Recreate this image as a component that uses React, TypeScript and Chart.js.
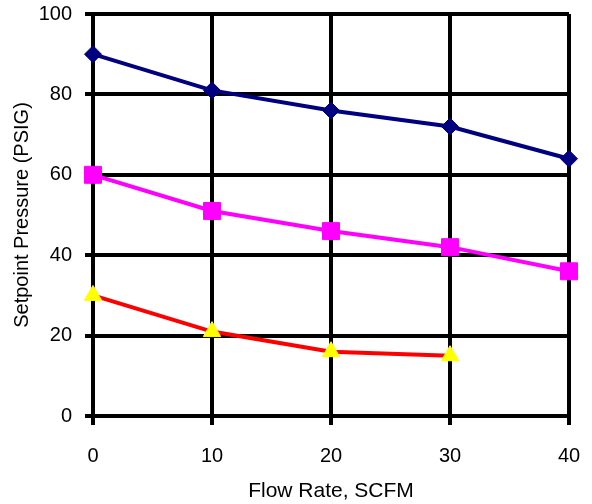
import React, { useEffect, useRef } from "react";
import { Chart, registerables } from "chart.js";

Chart.register(...registerables);

const flowRates = [0, 10, 20, 30, 40];
const seriesHigh = [90, 81, 76, 72, 64];
const seriesMid = [60, 51, 46, 42, 36];
const seriesLow = [30, 21, 16, 15];
const xTicks = [0, 10, 20, 30, 40];
const yTicks = [0, 20, 40, 60, 80, 100];

const FONT = "'Liberation Sans', Arial, sans-serif";

export default function App() {
  const ref = useRef<HTMLCanvasElement | null>(null);

  useEffect(() => {
    document.body.style.margin = "0";
    const ctx = ref.current;
    if (!ctx) return;
    const toPts = (vals: number[]) => vals.map((v, i) => ({ x: flowRates[i], y: v }));
    const chart = new Chart(ctx, {
      type: "line",
      data: {
        datasets: [
          {
            data: toPts(seriesHigh),
            borderColor: "#000080",
            backgroundColor: "#000080",
            borderWidth: 4,
            pointStyle: "rectRot",
            pointRadius: 8.5,
            pointBorderWidth: 1,
            pointBorderColor: "#000080",
            pointBackgroundColor: "#000080",
            clip: false,
          },
          {
            data: toPts(seriesMid),
            borderColor: "#FF00FF",
            backgroundColor: "#FF00FF",
            borderWidth: 4,
            pointStyle: "rect",
            pointRadius: 12,
            pointBorderWidth: 1,
            pointBorderColor: "#FF00FF",
            pointBackgroundColor: "#FF00FF",
            clip: false,
          },
          {
            data: toPts(seriesLow),
            borderColor: "#FF0000",
            backgroundColor: "#FFFF00",
            borderWidth: 4,
            pointStyle: "triangle",
            pointRadius: 10,
            pointBorderWidth: 1,
            pointBorderColor: "#FFFF00",
            pointBackgroundColor: "#FFFF00",
            clip: false,
          },
        ],
      },
      options: {
        animation: false,
        responsive: false,
        layout: { padding: { top: 14, right: 23, left: 0, bottom: 0 } },
        plugins: { legend: { display: false }, tooltip: { enabled: false } },
        elements: { line: { tension: 0 } },
        scales: {
          x: {
            type: "linear",
            min: 0,
            max: 40,
            afterBuildTicks: (s: any) => {
              s.ticks = xTicks.map((v) => ({ value: v }));
            },
            afterFit: (s: any) => {
              s.height = 88;
              s.paddingLeft = 0;
              s.paddingRight = 0;
            },
            grid: { color: "#000", lineWidth: 4, tickLength: 9, drawTicks: true },
            border: { display: true, color: "#000", width: 4 },
            ticks: { color: "#000", font: { family: FONT, size: 20 }, padding: 19 },
            title: {
              display: true,
              text: "Flow Rate, SCFM",
              color: "#000",
              font: { family: FONT, size: 21 },
              padding: { top: 2, bottom: 0 },
            },
          },
          y: {
            type: "linear",
            min: 0,
            max: 100,
            afterBuildTicks: (s: any) => {
              s.ticks = yTicks.map((v) => ({ value: v }));
            },
            afterFit: (s: any) => {
              s.width = 93;
              s.paddingTop = 0;
              s.paddingBottom = 0;
            },
            grid: { color: "#000", lineWidth: 4, tickLength: 8, drawTicks: true },
            border: { display: true, color: "#000", width: 4 },
            ticks: { color: "#000", font: { family: FONT, size: 20 }, padding: 13 },
            title: {
              display: true,
              text: "Setpoint Pressure (PSIG)",
              color: "#000",
              font: { family: FONT, size: 20 },
              padding: { top: 10, bottom: 0 },
            },
          },
        },
      },
    });
    return () => chart.destroy();
  }, []);

  return (
    <div style={{ width: 592, height: 504, background: "#fff" }}>
      <canvas ref={ref} width={592} height={504} />
    </div>
  );
}
